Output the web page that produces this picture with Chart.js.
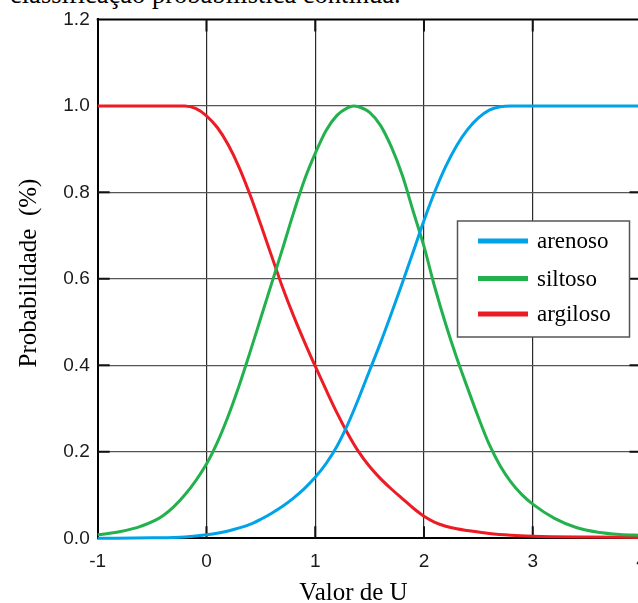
<!DOCTYPE html>
<html><head><meta charset="utf-8">
<script src="https://cdn.jsdelivr.net/npm/chart.js@4.4.1/dist/chart.umd.min.js"></script>
<style>
html,body{margin:0;padding:0;background:#fff;overflow:hidden;width:638px;height:603px;}
#caption{position:absolute;left:10px;top:-19px;font:26.5px/26px "Liberation Serif","Times New Roman",serif;color:#000;white-space:nowrap;}
#wrap{position:absolute;left:0;top:0;width:660px;height:603px;}
</style></head><body>
<div id="caption">classificação probabilística contínua.</div>
<div id="wrap"><canvas id="c" width="660" height="603"></canvas></div>
<script>
// ---- data ----
const seriesNames = ['arenoso', 'siltoso', 'argiloso'];
const xTickValues = [-1, 0, 1, 2, 3, 4];
const yTickValues = [0, 0.2, 0.4, 0.6, 0.8, 1.0, 1.2];
const xTitle = 'Valor de U';
const yTitle = 'Probabilidade  (%)';

const uArenoso = [-1, -0.5, -0.2, 0, 0.2, 0.4, 0.5, 0.6, 0.7, 0.8, 0.9, 1.0, 1.1, 1.2, 1.3, 1.4, 1.5, 1.6, 1.7, 1.8, 1.9, 2.0, 2.1, 2.2, 2.3, 2.4, 2.5, 2.6, 2.7, 2.8, 3.0, 3.5, 4.0];
const pArenoso = [0, 0.001, 0.003, 0.008, 0.017, 0.032, 0.044, 0.058, 0.074, 0.093, 0.115, 0.141, 0.173, 0.213, 0.264, 0.324, 0.388, 0.452, 0.52, 0.59, 0.662, 0.735, 0.802, 0.86, 0.908, 0.945, 0.972, 0.99, 0.998, 1.0, 1.0, 1.0, 1.0];

const uSiltoso = [-1, -0.8, -0.6, -0.4, -0.2, 0, 0.1, 0.2, 0.3, 0.4, 0.5, 0.6, 0.7, 0.8, 0.9, 1.0, 1.1, 1.2, 1.3, 1.35, 1.4, 1.5, 1.6, 1.7, 1.8, 1.9, 2.0, 2.1, 2.2, 2.3, 2.4, 2.5, 2.6, 2.7, 2.8, 2.9, 3.0, 3.2, 3.4, 3.6, 3.8, 4.0];
const pSiltoso = [0.008, 0.015, 0.028, 0.052, 0.1, 0.172, 0.222, 0.283, 0.353, 0.43, 0.51, 0.59, 0.67, 0.752, 0.828, 0.89, 0.943, 0.978, 0.996, 1.0, 0.998, 0.985, 0.955, 0.905, 0.84, 0.757, 0.675, 0.58, 0.495, 0.418, 0.348, 0.28, 0.217, 0.168, 0.13, 0.101, 0.079, 0.046, 0.025, 0.014, 0.009, 0.007];

const uArgiloso = [-1, -0.5, -0.2, -0.1, 0, 0.1, 0.2, 0.3, 0.4, 0.5, 0.6, 0.7, 0.8, 0.9, 1.0, 1.1, 1.2, 1.3, 1.4, 1.5, 1.6, 1.7, 1.8, 1.9, 2.0, 2.1, 2.2, 2.3, 2.4, 2.6, 2.8, 3.0, 3.5, 4.0];
const pArgiloso = [1, 1, 1, 0.994, 0.977, 0.95, 0.91, 0.858, 0.795, 0.725, 0.652, 0.58, 0.515, 0.455, 0.398, 0.343, 0.29, 0.242, 0.2, 0.166, 0.138, 0.114, 0.092, 0.07, 0.051, 0.037, 0.028, 0.022, 0.018, 0.011, 0.007, 0.005, 0.003, 0.002];

const seriesColors = ['#00A2E8', '#22B14C', '#ED1C24'];

const toPts = (xs, ys) => xs.map((x, i) => ({x: x, y: ys[i]}));
const seriesData = [toPts(uArenoso, pArenoso), toPts(uSiltoso, pSiltoso), toPts(uArgiloso, pArgiloso)];

const SERIF = '"Liberation Serif", "Times New Roman", serif';
const SANS = '"Liberation Sans", Arial, sans-serif';

// frame: top/right border and inward ticks
const framePlugin = {
  id: 'frame',
  beforeDatasetsDraw(chart) {
    const {ctx, chartArea: a, scales: {x, y}} = chart;
    ctx.save();
    ctx.strokeStyle = '#000';
    ctx.lineWidth = 2;
    ctx.beginPath();
    ctx.moveTo(a.left - 1, a.top); ctx.lineTo(a.right, a.top);
    ctx.moveTo(a.right, a.top); ctx.lineTo(a.right, a.bottom);
    ctx.stroke();
    const tl = 12;
    ctx.strokeStyle = '#111';
    ctx.beginPath();
    x.ticks.forEach(t => {
      const px = x.getPixelForValue(t.value);
      if (px <= a.left + 1 || px >= a.right - 1) return;
      ctx.moveTo(px, a.bottom); ctx.lineTo(px, a.bottom - tl);
      ctx.moveTo(px, a.top); ctx.lineTo(px, a.top + tl);
    });
    y.ticks.forEach(t => {
      const py = y.getPixelForValue(t.value);
      if (py <= a.top + 1 || py >= a.bottom - 1) return;
      ctx.moveTo(a.left, py); ctx.lineTo(a.left + tl, py);
      ctx.moveTo(a.right, py); ctx.lineTo(a.right - tl, py);
    });
    ctx.stroke();
    ctx.restore();
  }
};

const titlePlugin = {
  id: 'titles',
  afterDraw(chart) {
    const ctx = chart.ctx;
    ctx.save();
    ctx.fillStyle = '#000';
    ctx.font = '25px ' + SERIF;
    ctx.textAlign = 'center';
    ctx.textBaseline = 'alphabetic';
    ctx.fillText(xTitle, 353.5, 600);
    ctx.translate(29, 273);
    ctx.rotate(-Math.PI / 2);
    ctx.textBaseline = 'middle';
    ctx.fillText(yTitle, 0, 0);
    ctx.restore();
  }
};

const legendPlugin = {
  id: 'boxLegend',
  afterDraw(chart) {
    const ctx = chart.ctx;
    const L = 457.5, T = 221, W = 172, H = 116;
    ctx.save();
    ctx.fillStyle = '#fff';
    ctx.fillRect(L, T, W, H);
    ctx.strokeStyle = '#555';
    ctx.lineWidth = 1.5;
    ctx.strokeRect(L, T, W, H);
    const rows = [241, 278.5, 314];
    chart.data.datasets.forEach((ds, i) => {
      ctx.strokeStyle = ds.borderColor;
      ctx.lineWidth = 5;
      ctx.lineCap = 'butt';
      ctx.beginPath();
      ctx.moveTo(478, rows[i]); ctx.lineTo(528, rows[i]);
      ctx.stroke();
      ctx.fillStyle = '#000';
      ctx.font = '23px ' + SERIF;
      ctx.textAlign = 'left';
      ctx.textBaseline = 'middle';
      ctx.fillText(ds.label, 537, rows[i] + 1);
    });
    ctx.restore();
  }
};

new Chart(document.getElementById('c'), {
  type: 'line',
  data: {
    datasets: seriesNames.map((name, i) => ({
      label: name,
      data: seriesData[i],
      borderColor: seriesColors[i],
      backgroundColor: seriesColors[i],
      borderWidth: 3,
      pointRadius: 0,
      cubicInterpolationMode: 'monotone',
      clip: false,
      fill: false
    }))
  },
  options: {
    responsive: false,
    animation: false,
    devicePixelRatio: 1,
    layout: {padding: {left: 0, top: 17, right: 18.5, bottom: 0}},
    plugins: {legend: {display: false}, tooltip: {enabled: false}},
    scales: {
      x: {
        type: 'linear',
        min: -1, max: 4,
        afterBuildTicks: s => { s.ticks = xTickValues.map(v => ({value: v})); },
        afterFit: s => { s.height = 64.7; },
        grid: {
          drawTicks: false,
          lineWidth: 1.2,
          color: c => (c.tick && (c.tick.value === -1 || c.tick.value === 4)) ? 'rgba(0,0,0,0)' : '#2a2a2a'
        },
        border: {display: true, color: '#000', width: 2},
        ticks: {
          padding: 12,
          color: '#1a1a1a',
          font: {family: SANS, size: 19},
          callback: v => String(v)
        },
        title: {display: false}
      },
      y: {
        type: 'linear',
        min: 0, max: 1.2,
        afterBuildTicks: s => { s.ticks = yTickValues.map(v => ({value: v})); },
        afterFit: s => { s.width = 97.7; },
        grid: {
          drawTicks: false,
          lineWidth: 1.2,
          color: c => (c.tick && (c.tick.value === 0 || c.tick.value === 1.2)) ? 'rgba(0,0,0,0)' : '#555'
        },
        border: {display: true, color: '#000', width: 2},
        ticks: {
          padding: 8,
          color: '#1a1a1a',
          font: {family: SANS, size: 19},
          callback: v => Number(v).toFixed(1)
        },
        title: {display: false}
      }
    }
  },
  plugins: [framePlugin, titlePlugin, legendPlugin]
});
</script>
</body></html>
